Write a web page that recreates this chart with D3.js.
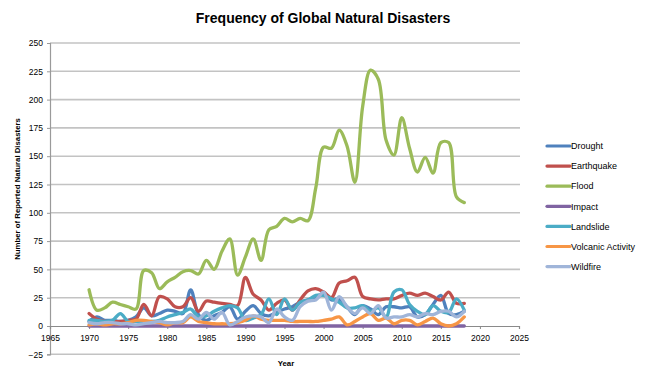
<!DOCTYPE html>
<html>
<head>
<meta charset="utf-8">
<script src="https://cdn.jsdelivr.net/npm/d3@7"></script>
<style>
  body { margin: 0; background: #fff; }
  svg text { font-family: "Liberation Sans", Arial, sans-serif; fill: #000; }
  .tick-label { font-size: 8.5px; }
  .title { font-size: 14px; font-weight: bold; }
  .axis-title { font-size: 7.8px; font-weight: bold; }
  .legend-label { font-size: 9px; }
</style>
</head>
<body>
<div id="chart"></div>
<script>
const WIDTH = 647;
const HEIGHT = 377;

const years = d3.range(1970, 2019);

const drought = [4, 8, 5, 5, 4, 5, 8, 16, 9, 11, 14, 13, 11, 32, 10, 5, 9, 12, 17, 6,
  13, 18, 11, 9, 12, 15, 17, 21, 23, 24, 29, 23, 24, 17, 10, 18, 15, 10, 17, 17,
  16, 17, 8, 10, 19, 27, 11, 10, 13];
const earthquake = [11, 6, 4, 4, 4, 5, 6, 19, 9, 26, 24, 17, 17, 25, 13, 22, 21, 20, 19, 18,
  43, 28, 23, 14, 20, 23, 14, 23, 31, 33, 30, 25, 38, 40, 43, 26, 24, 23, 24, 24,
  27, 29, 27, 29, 26, 23, 30, 20, 20];
const flood = [32, 14, 16, 21, 19, 17, 15, 49, 47, 33, 39, 43, 48, 49, 46, 58, 50, 66, 77, 45,
  61, 77, 58, 85, 88, 95, 92, 95, 93, 122, 158, 157, 173, 159, 127, 194, 226, 218, 164, 151,
  184, 157, 136, 149, 135, 162, 162, 114, 109];
const impact = years.map(() => 0);
const landslide = [5, 5, 4, 5, 11, 4, 4, 4, 4, 5, 8, 10, 12, 15, 8, 9, 13, 16, 18, 16,
  5, 7, 10, 24, 10, 24, 14, 21, 23, 27, 27, 24, 21, 16, 16, 18, 13, 16, 8, 30,
  32, 19, 13, 10, 18, 13, 12, 24, 14];
const volcanic = [1, 2, 1, 2, 2, 3, 5, 5, 4, 3, 1, 3, 3, 8, 4, 3, 2, 2, 2, 3,
  5, 9, 6, 5, 5, 5, 4, 4, 4, 4, 5, 6, 8, 1, 4, 8, 11, 5, 7, 2,
  5, 5, 1, 4, 7, 2, 0, 2, 8];
const wildfire = [3, 2, 3, 3, 2, 2, 1, 2, 3, 4, 3, 3, 4, 10, 6, 12, 6, 12, 1, 4,
  8, 9, 8, 3, 15, 8, 5, 17, 22, 23, 30, 14, 26, 17, 11, 16, 11, 18, 7, 8,
  8, 10, 8, 11, 10, 13, 13, 8, 13];

const seriesNames = ["Drought", "Earthquake", "Flood", "Impact", "Landslide", "Volcanic Activity", "Wildfire"];
const seriesValues = [drought, earthquake, flood, impact, landslide, volcanic, wildfire];
const seriesColors = ["#4f81bd", "#c0504d", "#9bbb59", "#8064a2", "#4bacc6", "#f79646", "#a0b5d9"];

const xTicks = d3.range(1965, 2026, 5);
const yTicks = d3.range(-25, 251, 25);

const PLOT = { left: 50, right: 520, top: 43, bottom: 354.3 };

const svg = d3.select("#chart")
  .append("svg")
  .attr("width", WIDTH)
  .attr("height", HEIGHT);

const x = d3.scaleLinear().domain([1965, 2025]).range([PLOT.left, 519]);
const y = d3.scaleLinear().domain([-25, 250]).range([PLOT.bottom, PLOT.top]);

// gridlines
svg.append("g")
  .selectAll("line")
  .data(yTicks.filter((d) => d !== 0))
  .join("line")
  .attr("x1", PLOT.left)
  .attr("x2", PLOT.right)
  .attr("y1", (d) => y(d))
  .attr("y2", (d) => y(d))
  .attr("stroke", "#c3c3c3")
  .attr("stroke-width", 1.6);

// y axis
const yAxis = svg.append("g")
  .attr("transform", `translate(${PLOT.left},0)`)
  .call(d3.axisLeft(y).tickValues(yTicks).tickSize(3).tickPadding(4));
yAxis.select(".domain").attr("stroke", "#9a9a9a").attr("stroke-width", 1.2);
yAxis.selectAll(".tick line").attr("stroke", "#9a9a9a");
yAxis.selectAll("text").attr("class", "tick-label").attr("font-family", null).attr("font-size", null);

// x axis sits at y = 0
const xAxis = svg.append("g")
  .attr("transform", `translate(0,${y(0)})`)
  .call(d3.axisBottom(x).tickValues(xTicks).tickFormat(d3.format("d")).tickSize(3).tickPadding(6));
xAxis.select(".domain").attr("stroke", "#8a8a8a").attr("stroke-width", 1.2);
xAxis.selectAll(".tick line").attr("stroke", "#8a8a8a");
xAxis.selectAll("text").attr("class", "tick-label").attr("font-family", null).attr("font-size", null);

// series lines
const line = d3.line()
  .x((d) => x(d.year))
  .y((d) => y(d.value))
  .curve(d3.curveCatmullRom.alpha(0.5));

const series = seriesNames.map((name, i) => ({
  name,
  color: seriesColors[i],
  points: years.map((yr, j) => ({ year: yr, value: seriesValues[i][j] })),
}));

svg.append("g")
  .selectAll("path")
  .data(series)
  .join("path")
  .attr("d", (d) => line(d.points))
  .attr("fill", "none")
  .attr("stroke", (d) => d.color)
  .attr("stroke-width", 3.3)
  .attr("stroke-linejoin", "round")
  .attr("stroke-linecap", "round");

// titles
svg.append("text")
  .attr("class", "title")
  .attr("x", 323)
  .attr("y", 23)
  .attr("text-anchor", "middle")
  .text("Frequency of Global Natural Disasters");

svg.append("text")
  .attr("class", "axis-title")
  .attr("transform", `translate(20,189) rotate(-90)`)
  .attr("text-anchor", "middle")
  .text("Number of Reported Natural Disasters");

svg.append("text")
  .attr("class", "axis-title")
  .attr("x", 286)
  .attr("y", 366)
  .attr("text-anchor", "middle")
  .text("Year");

// legend
const legend = svg.append("g")
  .attr("transform", "translate(547,146)");

const items = legend.selectAll("g")
  .data(series)
  .join("g")
  .attr("transform", (d, i) => `translate(0,${i * 20.1})`);

items.append("line")
  .attr("x1", 0)
  .attr("x2", 23)
  .attr("stroke", (d) => d.color)
  .attr("stroke-width", 3.2)
  .attr("stroke-linecap", "round");

items.append("text")
  .attr("class", "legend-label")
  .attr("x", 24)
  .attr("y", 3.2)
  .text((d) => d.name);
</script>
</body>
</html>
